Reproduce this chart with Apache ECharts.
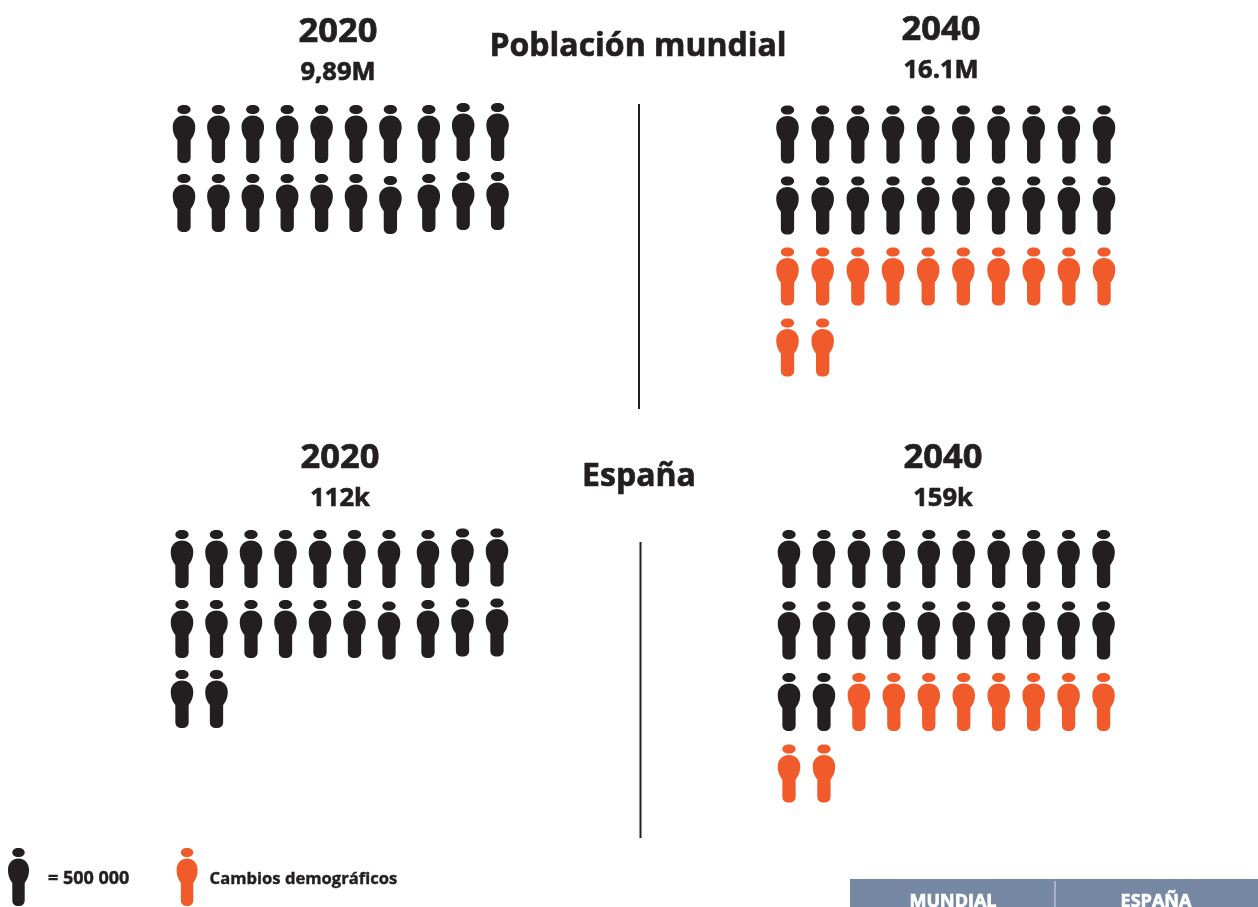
<!DOCTYPE html>
<html><head><meta charset="utf-8">
<style>html,body{margin:0;padding:0;background:#fff;overflow:hidden}#c{width:1258px;height:907px}</style>
<script src="https://cdn.jsdelivr.net/npm/echarts@6/dist/echarts.min.js"></script>
</head><body><div id="c"></div>
<script>
// ---- data ----
const panelYears = ["2020", "2040", "2020", "2040"];
const panelTotals = ["9,89M", "16.1M", "112k", "159k"];
const basePeople = [20, 20, 22, 22];
const changePeople = [0, 12, 0, 10];
const sectionTitles = ["Población mundial", "España"];
const legendNames = ["= 500 000", "Cambios demográficos"];
const tableHeaders = ["MUNDIAL", "ESPAÑA"];

// ---- layout and style ----
const COLS = 10, ROWS = 4;
const INK = "#231f20", ORANGE = "#f15a2b";
const FONT = '"Open Sans", "Noto Sans", sans-serif';
const PERSON = "path://M11 0C15 0 17.5 2 17.5 4.5C17.5 7 15 9 11 9C7 9 4.5 7 4.5 4.5C4.5 2 7 0 11 0Z" +
  "M11 10.5C17 10.5 22 15 22 21.5C22 27.5 20.5 31 17.5 35L17.5 52C17.5 56 15 58 11 58C7 58 4.5 56 4.5 52L4.5 35C1.5 31 0 27.5 0 21.5C0 15 5 10.5 11 10.5Z";
// same figure with an empty stretch below it, so the legend text sits lower than the icon's middle
const LEGEND_ICON = PERSON + "M11 62L11.01 62Z";
const panelLayout = [
  {x0: 184, dx: 34.4, y0: 134, dy: 69, gap: 4, nudge: 2},
  {x0: 787.5, dx: 35.17, y0: 134.5, dy: 71, gap: 0, nudge: 0},
  {x0: 182, dx: 34.5, y0: 559, dy: 70, gap: 4.5, nudge: 1.5},
  {x0: 789, dx: 34.95, y0: 559, dy: 71.5, gap: 0, nudge: 0}
];
const headerLayout = [
  {cx: 338, yearY: 32, totalY: 73},
  {cx: 941, yearY: 30, totalY: 71},
  {cx: 340, yearY: 458, totalY: 499},
  {cx: 943, yearY: 458, totalY: 499}
];
const legendText = [
  {fontSize: 18, padding: [0, 0, 0, 14]},
  {fontSize: 16.6, padding: [0, 0, 0, 7]}
];

const grids = panelLayout.map(p => ({
  left: p.x0 - p.dx / 2, top: p.y0 - p.dy / 2,
  width: p.dx * COLS, height: p.dy * ROWS, containLabel: false
}));
const axisBase = {type: "value", show: false};
const xAxes = grids.map((g, i) => ({...axisBase, gridIndex: i, min: 0.5, max: COLS + 0.5}));
const yAxes = grids.map((g, i) => ({...axisBase, gridIndex: i, min: 0.5, max: ROWS + 0.5, inverse: true}));

function people(panel, from, count) {
  const out = [];
  const p = panelLayout[panel];
  for (let k = from; k < from + count; k++) {
    const col = k % COLS + 1, row = Math.floor(k / COLS) + 1;
    const shiftX = col >= 8 ? p.gap : 0;
    const shiftY = col >= 9 ? -p.nudge : (col === 7 && row === 2 ? p.nudge : 0);
    out.push({value: [col, row], symbolOffset: [shiftX, shiftY]});
  }
  return out;
}
const series = [];
panelYears.forEach((y, i) => {
  const common = {type: "scatter", xAxisIndex: i, yAxisIndex: i, symbol: PERSON,
    symbolSize: [22.5, 58], symbolKeepAspect: false, clip: false, silent: true, animation: false};
  series.push({...common, name: legendNames[0], itemStyle: {color: INK, opacity: 1}, data: people(i, 0, basePeople[i])});
  series.push({...common, name: legendNames[1], itemStyle: {color: ORANGE, opacity: 1}, data: people(i, basePeople[i], changePeople[i])});
});

function label(text, x, y, size, color) {
  const c = color || INK;
  return {type: "text", x, y, silent: true, style: {text, fill: c, stroke: c, lineWidth: 0.7,
    font: "700 " + size + "px " + FONT, textAlign: "center", textVerticalAlign: "middle"}};
}
const graphics = [];
headerLayout.forEach((h, i) => {
  graphics.push(label(panelYears[i], h.cx, h.yearY, 34.5));
  graphics.push(label(panelTotals[i], h.cx, h.totalY, 25.5));
});
graphics.push(label(sectionTitles[0], 638, 47, 32));
graphics.push(label(sectionTitles[1], 639, 477, 32));
graphics.push({type: "line", silent: true, shape: {x1: 639, y1: 104, x2: 639, y2: 409}, style: {stroke: INK, lineWidth: 2}});
graphics.push({type: "line", silent: true, shape: {x1: 640.5, y1: 542, x2: 640.5, y2: 838}, style: {stroke: INK, lineWidth: 2}});
graphics.push({type: "rect", silent: true, shape: {x: 850, y: 879, width: 408, height: 28}, style: {fill: "#7688a4"}});
graphics.push({type: "line", silent: true, shape: {x1: 1055, y1: 881, x2: 1055, y2: 907}, style: {stroke: "#d5dbe4", lineWidth: 1}});
graphics.push(label(tableHeaders[0], 953, 902, 18, "#ffffff"));
graphics.push(label(tableHeaders[1], 1156, 902, 18, "#ffffff"));

const chart = echarts.init(document.getElementById("c"), null, {renderer: "canvas", width: 1258, height: 907});
chart.setOption({
  animation: false,
  backgroundColor: "#ffffff",
  grid: grids, xAxis: xAxes, yAxis: yAxes, series,
  legend: {
    left: 8, top: 848, orient: "horizontal", selectedMode: false, symbolKeepAspect: false,
    itemWidth: 21, itemHeight: 62, itemGap: 47, padding: 0,
    textStyle: {color: INK, fontFamily: FONT, fontWeight: 700, textBorderColor: INK, textBorderWidth: 0.4},
    data: legendNames.map((n, i) => ({name: n, icon: LEGEND_ICON, itemStyle: {color: i ? ORANGE : INK},
      textStyle: {color: INK, fontFamily: FONT, fontWeight: 700, textBorderColor: INK, textBorderWidth: 0.4, ...legendText[i]}}))
  },
  graphic: graphics
});
</script></body></html>
